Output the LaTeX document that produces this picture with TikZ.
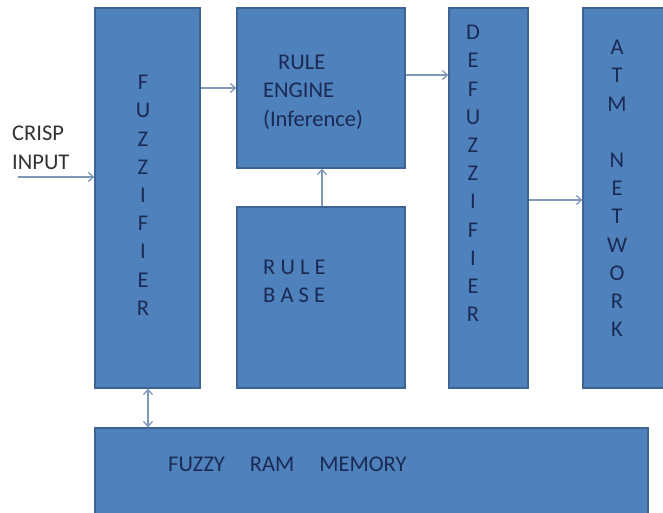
\documentclass[tikz,border=0pt]{standalone}
\usepackage{fontspec}
\setmainfont{Carlito}
\usetikzlibrary{arrows.meta}
\definecolor{boxfill}{HTML}{4F81BD}
\definecolor{boxedge}{HTML}{3D6494}
\definecolor{txtc}{HTML}{1B2A55}
\definecolor{arrc}{HTML}{7F97B8}
\definecolor{plain}{HTML}{333333}
\tikzset{
  blk/.style={draw=boxedge, fill=boxfill, line width=1.3pt, inner sep=0pt, rectangle},
  lbl/.style={text=txtc, inner sep=0pt, font=\fontsize{22.5}{28.2}\selectfont},
  conn/.style={draw=arrc, line width=1.3pt, -{Straight Barb[length=5pt,width=9pt]}},
  conn2/.style={draw=arrc, line width=1.3pt, {Straight Barb[length=5pt,width=9pt]}-{Straight Barb[length=5pt,width=9pt]}}
}
\begin{document}
\begin{tikzpicture}[x=1pt,y=-1pt]
\useasboundingbox[fill=white] (0,0) rectangle (663,512);
% boxes
\node[blk, minimum width=105pt, minimum height=380pt] (fuzz) at (147.5,198) {};
\node[blk, minimum width=168pt, minimum height=160pt] (engine) at (321,88) {};
\node[blk, minimum width=168pt, minimum height=181pt] (base) at (321,297.5) {};
\node[blk, minimum width=79pt, minimum height=380pt] (defuzz) at (488.5,198) {};
\node[blk, minimum width=90pt, minimum height=380pt] (atm) at (628,198) {};
\node[blk, minimum width=553pt, minimum height=96pt] (mem) at (371.5,476) {};
% texts
\node[lbl, align=center, anchor=north] (tfuzz) at (143,75) {F\\U\\Z\\Z\\I\\F\\I\\E\\R};
\node[lbl, align=left, anchor=north west] (tengine) at (263,55) {\hspace*{15pt}RULE\\ENGINE\\(Inference)};
\node[lbl, align=left, anchor=north west] (tbase) at (263,260) {R U L E\\B A S E};
\node[lbl, align=center, anchor=north] (tdefuzz) at (473,25) {D\\E\\F\\U\\Z\\Z\\I\\F\\I\\E\\R};
\node[lbl, align=center, anchor=north] (tatm) at (617,40) {A\\T\\M\\[28.2pt]N\\E\\T\\W\\O\\R\\K};
\node[lbl, anchor=west] (tmem) at (168,464) {FUZZY\hspace{25pt}RAM\hspace{25pt}MEMORY};
\node[lbl, text=plain, align=left, anchor=north west] (tcrisp) at (12,126) {CRISP\\INPUT};
% connectors
\coordinate (cin) at (18,177);
\draw[conn] (cin) -- (cin -| fuzz.west);
\draw[conn] (fuzz.east |- 0,88) -- (engine.west |- 0,88);
\draw[conn] (engine.east |- 0,75) -- (defuzz.west |- 0,75);
\draw[conn] (defuzz.east |- 0,200) -- (atm.west |- 0,200);
\draw[conn] (base.north -| 322,0) -- (engine.south -| 322,0);
\draw[conn2] (fuzz.south -| 148,0) -- (mem.north -| 148,0);
\end{tikzpicture}
\end{document}
